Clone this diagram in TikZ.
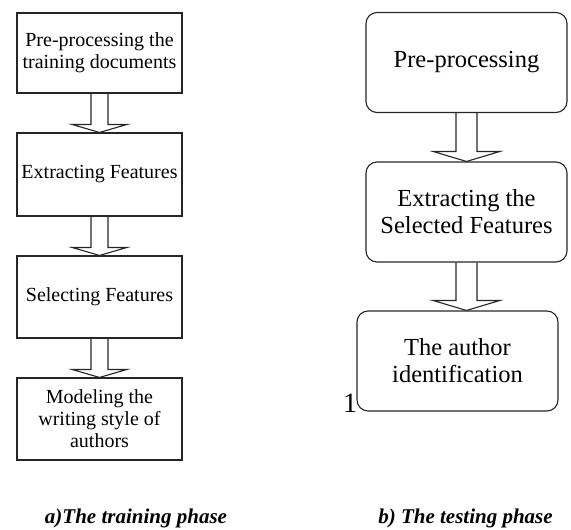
\documentclass[tikz,border=0pt]{standalone}
\usepackage{fontspec}
\setmainfont{Liberation Serif}
\usetikzlibrary{calc}

\begin{document}
\begin{tikzpicture}[%%
  x=1pt,y=-1pt,%%
  trainDecorate/.style={%%
    draw=black!85,line width=1.1pt,inner sep=0pt,align=center,%%
    minimum width=165pt,font=\fontsize{20}{22}\selectfont%%
  },%%
  testDecorate/.style={%%
    draw=black!85,line width=1.1pt,rounded corners=11pt,inner sep=0pt,%%
    align=center,minimum width=201pt,minimum height=100pt,%%
    font=\fontsize{24.5}{27}\selectfont%%
  },%%
  arrowDecorate/.style={-,draw=black!85,line width=1.1pt,line join=miter},%%
  captionDecorate/.style={anchor=base,font=\fontsize{21}{24}\selectfont\bfseries\itshape}%%
]
%%
%% Page size.
\useasboundingbox (0,0) rectangle (571,530);
%%
%% Global variables.
\pgfmathsetmacro{\Xa}{99.5}
\pgfmathsetmacro{\Xb}{466.5}
%%
%% Training phase boxes.
\node[trainDecorate,minimum height=80pt] (preTrain) at (\Xa,53) {Pre-processing the\\training documents};
\node[trainDecorate,minimum height=83pt] (extractTrain) at (\Xa,174.5) {Extracting Features};
\node[trainDecorate,minimum height=82pt] (selectTrain) at (\Xa,297) {Selecting Features};
\node[trainDecorate,minimum height=82pt] (modelTrain) at (\Xa,419) {Modeling the\\writing style of\\authors};
%%
%% Training phase arrows.
\pgfmathsetmacro{\sw}{8.5}
\pgfmathsetmacro{\hw}{27.5}
\pgfmathsetmacro{\hh}{8}
\foreach \a/\b in {preTrain/extractTrain,extractTrain/selectTrain,selectTrain/modelTrain} {
  \coordinate (tip) at (\a.south |- \b.north);
  \draw[arrowDecorate] ($(\a.south)+(-\sw,0)$) -- ($(tip)+(-\sw,-\hh)$)
    -- ($(tip)+(-\hw,-\hh)$) -- (tip) -- ($(tip)+(\hw,-\hh)$)
    -- ($(tip)+(\sw,-\hh)$) -- ($(\a.south)+(\sw,0)$);
}
%%
%% Testing phase boxes.
\node[testDecorate] (preTest) at (\Xb,62.5) {Pre-processing};
\node[testDecorate] (extractTest) at (\Xb,212) {Extracting the\\Selected Features};
\node[testDecorate] (authorTest) at (\Xb-9,361) {The author\\identification};
\node[anchor=base,font=\fontsize{28}{30}\selectfont] (pageMark) at (350,412) {1};
%%
%% Testing phase arrows.
\pgfmathsetmacro{\sw}{10.5}
\pgfmathsetmacro{\hw}{33.5}
\pgfmathsetmacro{\hh}{10}
\foreach \a/\b in {preTest/extractTest,extractTest/authorTest} {
  \coordinate (tip) at (\a.south |- \b.north);
  \draw[arrowDecorate] ($(\a.south)+(-\sw,0)$) -- ($(tip)+(-\sw,-\hh)$)
    -- ($(tip)+(-\hw,-\hh)$) -- (tip) -- ($(tip)+(\hw,-\hh)$)
    -- ($(tip)+(\sw,-\hh)$) -- ($(\a.south)+(\sw,0)$);
}
%%
%% Captions.
\node[captionDecorate] (trainCaption) at (136,523) {a)The training phase};
\node[captionDecorate] (testCaption) at (465.5,523) {b) The testing phase};
\end{tikzpicture}
\end{document}
